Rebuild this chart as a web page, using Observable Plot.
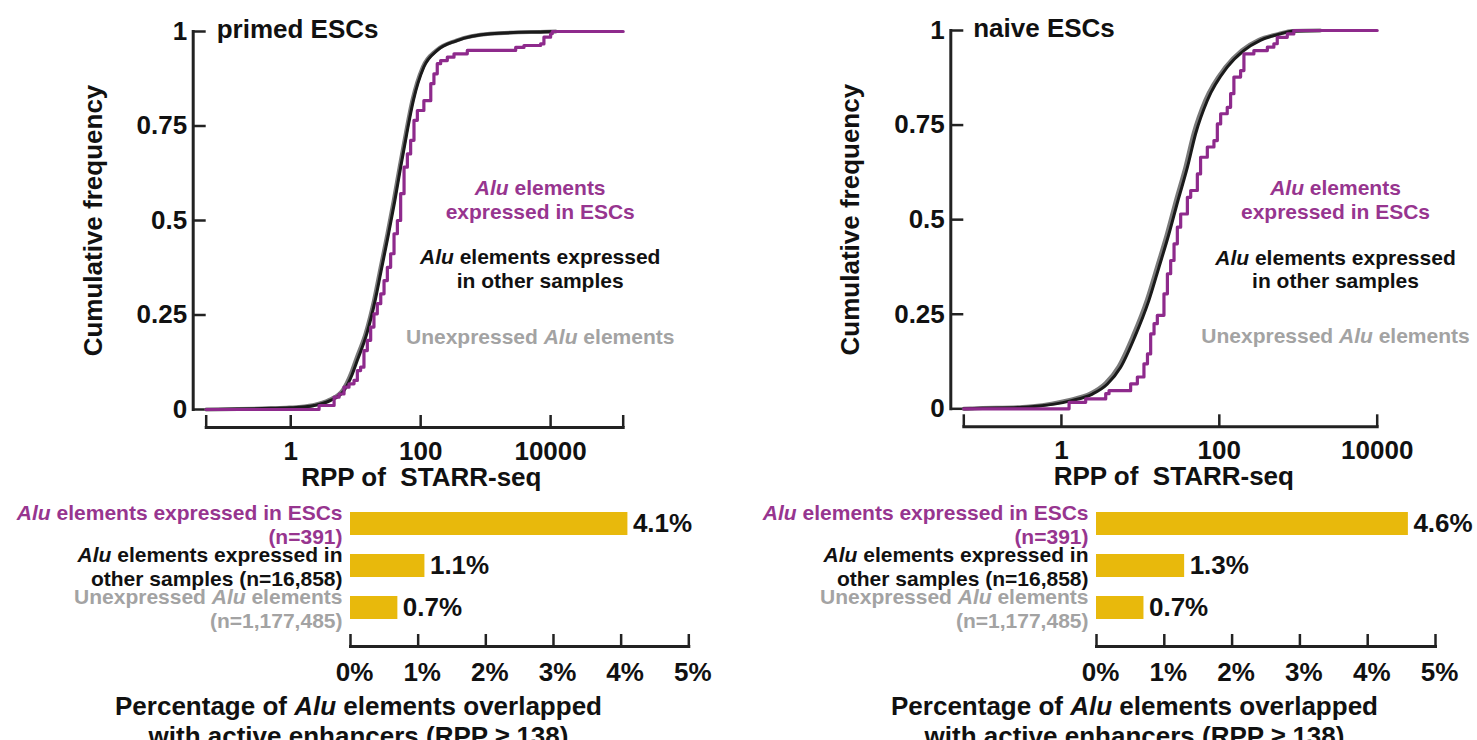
<!DOCTYPE html>
<html><head><meta charset="utf-8">
<script src="https://cdn.jsdelivr.net/npm/d3@7"></script>
<script src="https://cdn.jsdelivr.net/npm/@observablehq/plot@0.6"></script>
<style>
html,body{margin:0;padding:0;background:#fff;overflow:hidden;}
#root{position:relative;width:1477px;height:740px;}
.cell{position:absolute;}
</style></head><body><div id="root"></div>
<script>
// ---------- DATA ----------
const panelTitles = ["primed ESCs", "naive ESCs"];
const cdfTicks = [0, 0.25, 0.5, 0.75, 1];
const rppTicks = [1, 100, 10000];
const legendLabels = ["Alu elements\nexpressed in ESCs", "Alu elements expressed\nin other samples", "Unexpressed Alu elements"];
const xAxisTitle = "RPP of  STARR-seq";
const yAxisTitle = "Cumulative frequency";

// [RPP, cumulative frequency]
const primedUnexpressed = [[0.05,0],[0.155,0.0011],[0.48,0.0032],[0.95,0.005],[2.2,0.0112],[3.95,0.0255],[6.35,0.052],[8.55,0.097],[10.2,0.134],[14.3,0.203],[19.1,0.288],[24.2,0.376],[30.7,0.464],[38.4,0.552],[47.5,0.642],[59.0,0.73],[74.6,0.818],[108,0.906],[174,0.95],[352,0.976],[1170,0.994],[6800,0.999],[12000,1]];
const primedOther = [[0.05,0],[0.158,0.001],[0.5,0.003],[1.0,0.0045],[2.3,0.0106],[4.12,0.024],[6.61,0.05],[8.89,0.094],[10.6,0.13],[14.8,0.2],[19.8,0.286],[25.1,0.374],[31.8,0.462],[39.8,0.55],[49.2,0.641],[61.0,0.729],[77.1,0.817],[112,0.906],[180,0.95],[363,0.976],[1200,0.994],[7080,0.999],[12600,1]];
const primedESC = [[0.05,0],[2.73,0.0106],[4.65,0.0326],[5.55,0.041],[6.61,0.059],[7.89,0.068],[9.42,0.077],[10.6,0.103],[11.9,0.112],[13.4,0.156],[15.1,0.183],[17.0,0.218],[19.1,0.253],[21.5,0.28],[24.3,0.306],[27.3,0.341],[30.7,0.376],[34.5,0.412],[38.9,0.465],[43.8,0.5],[49.2,0.571],[55.5,0.641],[62.4,0.676],[70.1,0.712],[78.9,0.765],[88.9,0.791],[112,0.817],[143,0.862],[160,0.888],[180,0.915],[203,0.923],[257,0.932],[326,0.941],[522,0.95],[2900,0.958],[3890,0.963],[7015,0.967],[7890,0.985],[10000,0.994],[10600,1],[131000,1]];

const naiveUnexpressed = [[0.058,0],[0.075,0.0011],[0.32,0.0045],[0.43,0.0068],[1.23,0.023],[2.35,0.041],[3.62,0.068],[5.3,0.112],[8.05,0.193],[12.1,0.288],[16.3,0.376],[21.8,0.464],[28.3,0.552],[37.3,0.64],[47.4,0.729],[66.6,0.816],[119,0.903],[193,0.948],[313,0.975],[564,0.991],[840,0.999],[1900,1]];
const naiveOther = [[0.058,0],[0.079,0.001],[0.34,0.004],[0.45,0.006],[1.3,0.021],[2.47,0.039],[3.8,0.065],[5.6,0.109],[8.5,0.19],[12.8,0.286],[17.2,0.374],[23.0,0.462],[29.9,0.55],[39.4,0.638],[50.1,0.727],[70.5,0.815],[126,0.903],[204,0.947],[331,0.974],[597,0.991],[880,0.999],[2000,1]];
const naiveESC = [[0.058,0],[1.25,0.017],[2.03,0.026],[3.64,0.04],[4.01,0.048],[7.53,0.066],[9.16,0.084],[11.1,0.119],[12.3,0.145],[13.5,0.198],[14.9,0.225],[16.4,0.247],[19.9,0.304],[22.0,0.357],[24.2,0.392],[26.7,0.436],[29.4,0.48],[32.4,0.515],[39.4,0.559],[43.4,0.577],[52.7,0.621],[57.9,0.665],[70.5,0.692],[85.5,0.709],[94.4,0.753],[104,0.78],[126,0.797],[139,0.833],[153,0.877],[186,0.894],[205,0.938],[274,0.947],[406,0.956],[491,0.965],[542,0.982],[726,0.991],[879,1],[10000,1]];

const barKeys = ["esc", "other", "unexpressed"];
const barLabels = ["Alu elements expressed in ESCs\n(n=391)", "Alu elements expressed in\nother samples (n=16,858)", "Unexpressed Alu elements\n(n=1,177,485)"];
const primedPercent = [4.1, 1.1, 0.7];
const naivePercent = [4.6, 1.3, 0.7];
const percentTicks = [0, 1, 2, 3, 4, 5];
const barAxisTitle = "Percentage of Alu elements overlapped\nwith active enhancers (RPP \u2265 138)";

// ---------- STYLE ----------
const FONT = '"Liberation Sans", Arial, Helvetica, sans-serif';
const PURPLE_TEXT = "#97358F", PURPLE_LINE = "#8E2A8C";
const GRAY_TEXT = "#A3A3A3", GRAY_LINE = "#7A7A7A";
const BLACK_LINE = "#1a1a1a", INK = "#111", AXIS = "#222", GOLD = "#E8B90C";
const seriesTextColors = [PURPLE_TEXT, INK, GRAY_TEXT];

const baseStyle = {fontFamily: FONT, fontSize: "26px", fontWeight: "bold", color: INK, background: "transparent", overflow: "visible"};

function italicizeAlu(svg) {
  const ns = "http://www.w3.org/2000/svg";
  const targets = [];
  svg.querySelectorAll("text").forEach(t => {
    const spans = t.querySelectorAll("tspan");
    if (spans.length) spans.forEach(s => targets.push(s)); else targets.push(t);
  });
  targets.forEach(el => {
    const s = el.textContent;
    if (!s.includes("Alu")) return;
    const parts = s.split("Alu");
    el.textContent = "";
    parts.forEach((p, i) => {
      if (i > 0) {
        const it = document.createElementNS(ns, "tspan");
        it.setAttribute("font-style", "italic");
        it.textContent = "Alu";
        el.appendChild(it);
      }
      if (p) el.appendChild(document.createTextNode(p));
    });
  });
  return svg;
}

function cdfPlot(c) {
  const xt = [c.xDomain[0], ...rppTicks.filter(t => t > c.xDomain[0] && t < c.xDomain[1]), c.xDomain[1]];
  return Plot.plot({
    width: c.width, height: 500,
    marginLeft: c.ml, marginRight: c.mr, marginTop: c.mt, marginBottom: c.mb,
    x: {type: "log", domain: c.xDomain, axis: null},
    y: {domain: [0, 1], axis: null},
    style: baseStyle,
    marks: [
      Plot.frame({anchor: "left", insetLeft: -13, stroke: AXIS, strokeWidth: 3}),
      Plot.frame({anchor: "bottom", insetBottom: -18, stroke: AXIS, strokeWidth: 3}),
      Plot.axisY({ticks: cdfTicks, tickFormat: d => String(d), tickSize: 13, tickPadding: 6, strokeWidth: 2.5, stroke: AXIS, fill: INK, label: null}),
      Plot.axisX({ticks: xt, tickFormat: d => rppTicks.includes(d) ? String(d) : null, tickSize: 12, dy: 6, tickPadding: 14, strokeWidth: 2.5, stroke: AXIS, fill: INK, label: null}),
      Plot.line(c.gray, {x: d => d[0], y: d => d[1], stroke: GRAY_LINE, strokeWidth: 4, curve: "monotone-x"}),
      Plot.line(c.black, {x: d => d[0], y: d => d[1], stroke: BLACK_LINE, strokeWidth: 3, curve: "monotone-x"}),
      Plot.line(c.purple, {x: d => d[0], y: d => d[1], stroke: PURPLE_LINE, strokeWidth: 3.2, curve: "step-after"}),
      Plot.text([c.title], {frameAnchor: "top-left", dx: c.titleDx, dy: -2, textAnchor: "start", lineAnchor: "middle", fontSize: 26, fill: INK}),
      Plot.text([yAxisTitle], {frameAnchor: "left", dx: -113, rotate: -90, textAnchor: "middle", lineAnchor: "middle", fontSize: 26, fill: INK}),
      Plot.text([xAxisTitle], {frameAnchor: "bottom", dx: c.xTitleDx, dy: 68, textAnchor: "middle", lineAnchor: "middle", fontSize: 26, fill: INK}),
      ...legendLabels.map((lab, i) => Plot.text([lab], {frameAnchor: "top-left", dx: c.legendDx, dy: c.legendDy[i], textAnchor: "middle", lineAnchor: "middle", lineHeight: 1.14, fontSize: 21, fill: seriesTextColors[i]}))
    ]
  });
}

function barPlot(c) {
  const rows = barKeys.map((k, i) => ({key: k, label: barLabels[i], value: c.values[i], color: seriesTextColors[i]}));
  return Plot.plot({
    width: c.width, height: 250,
    marginLeft: c.ml, marginRight: c.mr, marginTop: 7.7, marginBottom: 106,
    x: {domain: [0, 5], axis: null},
    y: {type: "band", domain: barKeys, paddingInner: 0.45, paddingOuter: 0.31, axis: null},
    style: baseStyle,
    marks: [
      Plot.barX(rows, {x: "value", y: "key", fill: GOLD}),
      Plot.text(rows, {x: "value", y: "key", text: d => d.value.toFixed(1) + "%", dx: 5, textAnchor: "start", lineAnchor: "middle", fontSize: 26, fill: INK}),
      Plot.text(rows, {y: "key", frameAnchor: "left", dx: -8, textAnchor: "end", lineAnchor: "middle", lineHeight: 1.14, text: d => d.label, fill: d => d.color, fontSize: 21}),
      Plot.frame({anchor: "bottom", insetBottom: -12, stroke: AXIS, strokeWidth: 3}),
      Plot.axisX({ticks: percentTicks, tickFormat: () => null, tickSize: 12, strokeWidth: 2.5, stroke: AXIS, label: null}),
      Plot.axisX({ticks: percentTicks, tickFormat: d => d + "%", tickSize: 0, tickPadding: 28, dx: 4, fill: INK, label: null}),
      Plot.text([barAxisTitle], {frameAnchor: "bottom-left", dx: c.titleDx, dy: 59, textAnchor: "middle", lineAnchor: "top", lineHeight: 1.15, fontSize: 26, fill: INK})
    ]
  });
}

function place(node, left, top) {
  const d = document.createElement("div");
  d.className = "cell";
  d.style.left = left + "px";
  d.style.top = top + "px";
  d.appendChild(italicizeAlu(node));
  document.getElementById("root").appendChild(d);
}

place(cdfPlot({width: 740, ml: 205.7, mr: 117.3, mt: 31, mb: 91, xDomain: [0.05, 131000],
  gray: primedUnexpressed, black: primedOther, purple: primedESC, title: panelTitles[0], titleDx: 10.5,
  xTitleDx: 6.6, legendDx: 334, legendDy: [168, 237, 305]}), 0, 0);
place(cdfPlot({width: 737, ml: 223.3, mr: 100.3, mt: 30, mb: 91.7, xDomain: [0.058, 10000],
  gray: naiveUnexpressed, black: naiveOther, purple: naiveESC, title: panelTitles[1], titleDx: 9.4,
  xTitleDx: 3.3, legendDx: 371.7, legendDy: [168.7, 238.3, 305]}), 740, 0);
place(barPlot({width: 740, ml: 350, mr: 51.7, values: primedPercent, titleDx: 8}), 0, 490);
place(barPlot({width: 737, ml: 356, mr: 42, values: naivePercent, titleDx: 38}), 740, 490);
</script></body></html>
